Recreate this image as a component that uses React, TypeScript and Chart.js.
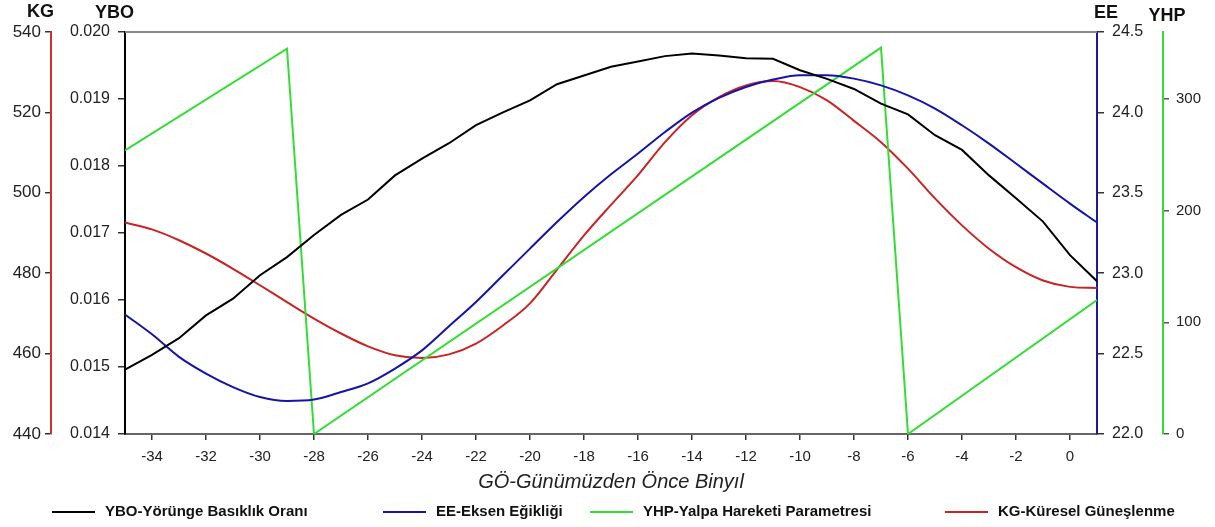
import React, { useEffect, useRef } from 'react';
import { Chart, registerables } from 'chart.js';

Chart.register(...registerables);

const FONT = '"Liberation Sans", Arial, Helvetica, sans-serif';

// Time axis (thousand years before present)
const years = [-35, -34, -33, -32, -31, -30, -29, -28, -27, -26, -25, -24, -23, -22, -21, -20, -19, -18, -17, -16, -15, -14, -13, -12, -11, -10, -9, -8, -7, -6, -5, -4, -3, -2, -1, 0, 1];

// YBO - orbital eccentricity
const ybo = [0.01496, 0.01518, 0.01543, 0.01577, 0.01602, 0.01637, 0.01664, 0.01697, 0.01727, 0.01750, 0.01786, 0.01811, 0.01834, 0.01861, 0.01880, 0.01898, 0.01922, 0.01935, 0.01948, 0.01956, 0.01964, 0.01968, 0.01965, 0.01961, 0.01960, 0.01943, 0.01930, 0.01915, 0.01893, 0.01877, 0.01846, 0.01824, 0.01786, 0.01752, 0.01717, 0.01667, 0.01628];

// EE - obliquity
const ee = [22.743, 22.62, 22.48, 22.376, 22.292, 22.230, 22.205, 22.214, 22.261, 22.315, 22.407, 22.52, 22.67, 22.821, 22.987, 23.153, 23.318, 23.474, 23.615, 23.744, 23.878, 23.999, 24.09, 24.158, 24.204, 24.231, 24.231, 24.21, 24.168, 24.106, 24.024, 23.92, 23.806, 23.682, 23.557, 23.433, 23.315];

// KG - insolation
const kg = [492.6, 490.9, 488.2, 484.9, 481.1, 477.0, 472.8, 468.7, 465.0, 461.8, 459.6, 458.9, 459.8, 462.5, 467.0, 472.5, 480.9, 489.4, 497.0, 504.4, 512.6, 519.3, 523.8, 526.7, 527.8, 526.3, 523.0, 517.9, 512.6, 506.0, 498.6, 491.9, 486.1, 481.5, 478.2, 476.6, 476.3];

// YHP - precession parameter (sawtooth vertices)
const yhpYears = [-35, -29, -28, -7, -6, 1];
const yhp = [254, 345, 0, 346, 0, 120];

// Tick labels
const xTicks = [-34, -32, -30, -28, -26, -24, -22, -20, -18, -16, -14, -12, -10, -8, -6, -4, -2, 0];
const yboTicks = [0.014, 0.015, 0.016, 0.017, 0.018, 0.019, 0.020];
const kgTicks = [440, 460, 480, 500, 520, 540];
const eeTicks = [22.0, 22.5, 23.0, 23.5, 24.0, 24.5];
const yhpTicks = [0, 100, 200, 300];

const seriesLabels = ['YBO-Yörünge Basıklık Oranı', 'EE-Eksen Eğikliği', 'YHP-Yalpa Hareketi Parametresi', 'KG-Küresel Güneşlenme'];
const seriesColors = ['#000000', '#1414a8', '#33dd33', '#c82424'];

const legendX = [52, 383, 590, 945];

const setTicks = (vals: number[]) => (scale: any) => {
  scale.ticks = vals.map((value) => ({ value }));
};

const decorPlugin = {
  id: 'decor',
  beforeDatasetsDraw(chart: any) {
    const { ctx, chartArea } = chart;
    ctx.save();
    ctx.strokeStyle = '#888888';
    ctx.lineWidth = 2;
    ctx.beginPath();
    ctx.moveTo(chartArea.left, chartArea.top);
    ctx.lineTo(chartArea.right, chartArea.top);
    ctx.stroke();
    ctx.restore();
  },
  afterDraw(chart: any) {
    const { ctx } = chart;
    const s = chart.scales;
    ctx.save();
    ctx.fillStyle = '#111111';
    ctx.font = `bold 18px ${FONT}`;
    ctx.textBaseline = 'middle';
    ctx.textAlign = 'right';
    ctx.fillText('KG', s.kg.right + 3, 12);
    ctx.textAlign = 'left';
    ctx.fillText('YBO', s.ybo.right - 30, 13);
    ctx.fillText('EE', s.ee.left - 3, 13);
    ctx.textAlign = 'center';
    ctx.fillText('YHP', s.yhp.left + 4, 16);

    // legend
    const y = 512;
    ctx.font = `bold 15px ${FONT}`;
    ctx.textAlign = 'left';
    chart.data.datasets.forEach((ds: any, i: number) => {
      const x = legendX[i];
      ctx.strokeStyle = ds.borderColor;
      ctx.lineWidth = 2;
      ctx.beginPath();
      ctx.moveTo(x, y);
      ctx.lineTo(x + 43, y);
      ctx.stroke();
      ctx.fillStyle = '#111111';
      ctx.fillText(ds.label, x + 53, y);
    });
    ctx.restore();
  },
};

export default function App() {
  const ref = useRef<HTMLCanvasElement | null>(null);

  useEffect(() => {
    if (!ref.current) return;
    const tickFont = { family: FONT, size: 16 };
    const chart = new Chart(ref.current, {
      type: 'line',
      data: {
        datasets: [
          {
            label: seriesLabels[0],
            data: years.map((x, i) => ({ x, y: ybo[i] })),
            borderColor: seriesColors[0],
            backgroundColor: seriesColors[0],
            borderWidth: 2,
            pointRadius: 0,
            tension: 0,
            yAxisID: 'ybo',
          },
          {
            label: seriesLabels[1],
            data: years.map((x, i) => ({ x, y: ee[i] })),
            borderColor: seriesColors[1],
            backgroundColor: seriesColors[1],
            borderWidth: 2,
            pointRadius: 0,
            cubicInterpolationMode: 'monotone',
            yAxisID: 'ee',
          },
          {
            label: seriesLabels[2],
            data: yhpYears.map((x, i) => ({ x, y: yhp[i] })),
            borderColor: seriesColors[2],
            backgroundColor: seriesColors[2],
            borderWidth: 2,
            pointRadius: 0,
            tension: 0,
            yAxisID: 'yhp',
          },
          {
            label: seriesLabels[3],
            data: years.map((x, i) => ({ x, y: kg[i] })),
            borderColor: seriesColors[3],
            backgroundColor: seriesColors[3],
            borderWidth: 2,
            pointRadius: 0,
            cubicInterpolationMode: 'monotone',
            yAxisID: 'kg',
          },
        ],
      },
      options: {
        responsive: false,
        animation: false,
        events: [],
        layout: { padding: { top: 32, bottom: 33, left: 0, right: 0 } },
        plugins: {
          legend: { display: false },
          tooltip: { enabled: false },
        },
        scales: {
          x: {
            type: 'linear',
            position: 'bottom',
            min: -35,
            max: 1,
            afterBuildTicks: setTicks(xTicks),
            afterFit: (sc: any) => { sc.height = 60; },
            grid: { drawOnChartArea: false, drawTicks: true, tickLength: 6, color: '#333333', lineWidth: 1.5 },
            border: { display: true, color: '#666666', width: 2 },
            ticks: { font: { family: FONT, size: 15 }, color: '#222222', padding: 8, maxRotation: 0, autoSkip: false },
            title: {
              display: true,
              text: 'GÖ-Günümüzden Önce Binyıl',
              font: { family: FONT, size: 20, style: 'italic' },
              color: '#222222',
              padding: { top: 0, bottom: 0 },
            },
          },
          ybo: {
            type: 'linear',
            position: 'left',
            weight: 0,
            min: 0.014,
            max: 0.020,
            afterBuildTicks: setTicks(yboTicks),
            afterFit: (sc: any) => { sc.width = 74; },
            grid: { drawOnChartArea: false, drawTicks: true, tickLength: 7, color: '#333333', lineWidth: 1.5 },
            border: { display: true, color: '#000000', width: 2 },
            ticks: { font: tickFont, color: '#222222', padding: 8, callback: (v: any) => Number(v).toFixed(3) },
          },
          kg: {
            type: 'linear',
            position: 'left',
            weight: 1,
            min: 440,
            max: 540,
            afterBuildTicks: setTicks(kgTicks),
            afterFit: (sc: any) => { sc.width = 51; },
            grid: { drawOnChartArea: false, drawTicks: true, tickLength: 6, color: '#333333', lineWidth: 1.5 },
            border: { display: true, color: '#d03030', width: 2 },
            ticks: { font: { family: FONT, size: 17 }, color: '#222222', padding: 4, callback: (v: any) => String(v) },
          },
          ee: {
            type: 'linear',
            position: 'right',
            weight: 0,
            min: 22,
            max: 24.5,
            afterBuildTicks: setTicks(eeTicks),
            afterFit: (sc: any) => { sc.width = 66; },
            grid: { drawOnChartArea: false, drawTicks: true, tickLength: 7, color: '#333333', lineWidth: 1.5 },
            border: { display: true, color: '#1a1a9a', width: 2 },
            ticks: { font: tickFont, color: '#222222', padding: 8, callback: (v: any) => Number(v).toFixed(1) },
          },
          yhp: {
            type: 'linear',
            position: 'right',
            weight: 1,
            min: 0,
            max: 360,
            afterBuildTicks: setTicks(yhpTicks),
            afterFit: (sc: any) => { sc.width = 52; },
            grid: { drawOnChartArea: false, drawTicks: true, tickLength: 6, color: '#555555', lineWidth: 1.5 },
            border: { display: true, color: '#33dd33', width: 2 },
            ticks: { font: { family: FONT, size: 15 }, color: '#222222', padding: 7, callback: (v: any) => String(v) },
          },
        },
      } as any,
      plugins: [decorPlugin],
    });
    return () => chart.destroy();
  }, []);

  return (
    <div style={{ position: 'fixed', left: 0, top: 0, width: 1215, height: 527, background: '#ffffff' }}>
      <canvas ref={ref} width={1215} height={527} style={{ display: 'block' }} />
    </div>
  );
}
